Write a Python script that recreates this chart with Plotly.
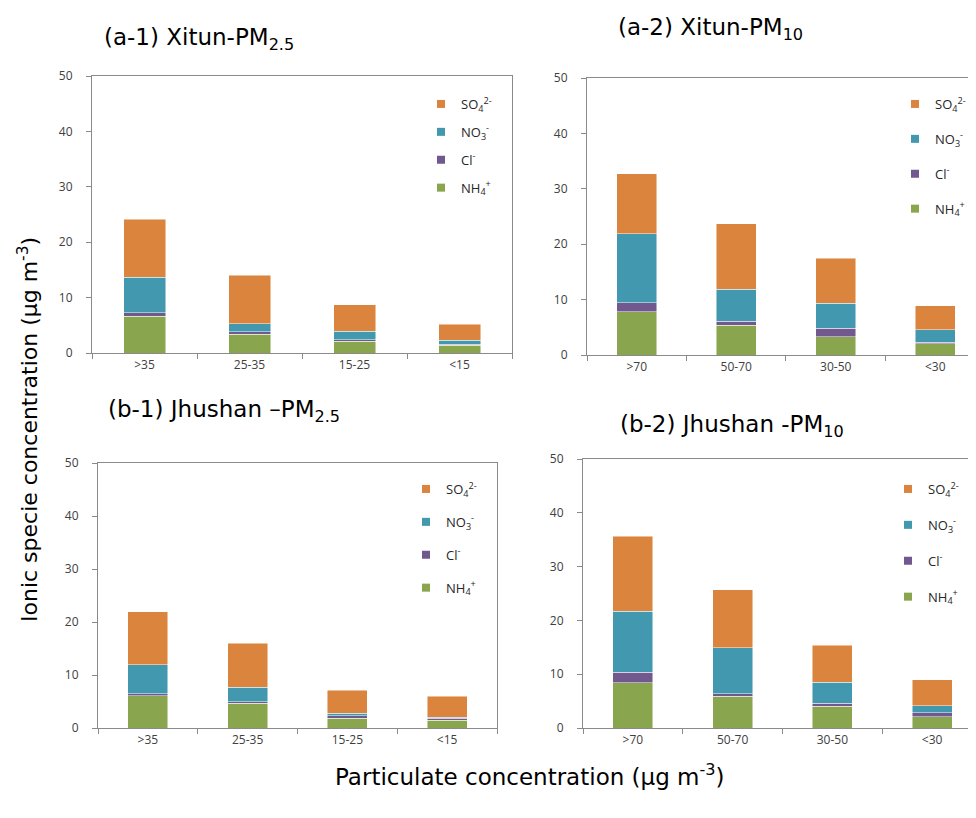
import plotly.graph_objects as go

# page body has an 8px margin; keep the figure inside the 976x818 window
OFF = 8
W, H = 976 - OFF, 818 - OFF

cats_pm25 = [">35", "25-35", "15-25", "<15"]
cats_pm10 = [">70", "50-70", "30-50", "<30"]

species = ["NH4", "Cl", "NO3", "SO4"]
species_labels = {
    "SO4": "SO<sub>4</sub><sup>2-</sup>",
    "NO3": "NO<sub>3</sub><sup>-</sup>",
    "Cl": "Cl<sup>-</sup>",
    "NH4": "NH<sub>4</sub><sup>+</sup>",
}
colors = {"SO4": "#DB843D", "NO3": "#4198AF", "Cl": "#71588F", "NH4": "#89A54E"}

# (a-1) Xitun PM2.5
a1_NH4 = [6.6, 3.4, 2.1, 1.4]
a1_Cl = [0.7, 0.4, 0.3, 0.2]
a1_NO3 = [6.4, 1.5, 1.5, 0.7]
a1_SO4 = [10.4, 8.7, 4.8, 2.9]
# (a-2) Xitun PM10
a2_NH4 = [7.8, 5.4, 3.3, 2.0]
a2_Cl = [1.6, 0.7, 1.5, 0.3]
a2_NO3 = [12.5, 5.8, 4.5, 2.3]
a2_SO4 = [10.8, 11.8, 8.2, 4.3]
# (b-1) Jhushan PM2.5
b1_NH4 = [6.1, 4.7, 1.8, 1.5]
b1_Cl = [0.4, 0.3, 0.5, 0.3]
b1_NO3 = [5.4, 2.7, 0.5, 0.2]
b1_SO4 = [10.0, 8.3, 4.3, 4.0]
# (b-2) Jhushan PM10
b2_NH4 = [8.4, 5.9, 4.0, 2.1]
b2_Cl = [2.0, 0.5, 0.6, 0.7]
b2_NO3 = [11.3, 8.5, 3.9, 1.3]
b2_SO4 = [13.9, 10.8, 6.9, 4.9]

y_ticks = [0, 10, 20, 30, 40, 50]


def px_x(sx):
    return (sx - OFF) / W


def px_y(sy):
    return 1 - (sy - OFF) / H


panels = [
    dict(cats=cats_pm25, data={"NH4": a1_NH4, "Cl": a1_Cl, "NO3": a1_NO3, "SO4": a1_SO4},
         px=(92, 512), py=(76, 353), leg=(421, 89), gap=8, xrange=[-0.5, 3.5]),
    dict(cats=cats_pm10, data={"NH4": a2_NH4, "Cl": a2_Cl, "NO3": a2_NO3, "SO4": a2_SO4},
         px=(587, 976), py=(78, 355), leg=(895, 89), gap=15, xrange=[-0.5, 3.41]),
    dict(cats=cats_pm25, data={"NH4": b1_NH4, "Cl": b1_Cl, "NO3": b1_NO3, "SO4": b1_SO4},
         px=(98, 497), py=(463, 728), leg=(406, 474), gap=13, xrange=[-0.5, 3.5]),
    dict(cats=cats_pm10, data={"NH4": b2_NH4, "Cl": b2_Cl, "NO3": b2_NO3, "SO4": b2_SO4},
         px=(583, 976), py=(459, 728), leg=(888, 474), gap=16, xrange=[-0.5, 3.44]),
]

fig = go.Figure()
layout = {}
axis_col = "#8A8A8A"
tick_font = dict(family="Open Sans, Lato, sans-serif", size=12, color="#404040")

for i, p in enumerate(panels, start=1):
    xa = "x" if i == 1 else f"x{i}"
    ya = "y" if i == 1 else f"y{i}"
    lg = "legend" if i == 1 else f"legend{i}"
    for sp in species:
        fig.add_trace(go.Bar(
            x=p["cats"], y=p["data"][sp], name=species_labels[sp],
            marker=dict(color=colors[sp], line=dict(color="rgba(255,255,255,0.6)", width=0.8)),
            width=0.4, xaxis=xa, yaxis=ya, showlegend=False,
        ))
    for k, sp in enumerate(["SO4", "NO3", "Cl", "NH4"]):
        fig.add_trace(go.Scatter(
            x=[None], y=[None], mode="markers", name=species_labels[sp],
            marker=dict(symbol="square", size=8, color=colors[sp]),
            xaxis=xa, yaxis=ya, legend=lg, legendgroup=f"g{i}{k}", showlegend=True,
        ))
    xkey = "xaxis" if i == 1 else f"xaxis{i}"
    ykey = "yaxis" if i == 1 else f"yaxis{i}"
    layout[xkey] = dict(
        domain=[px_x(p["px"][0]), min(1.0, px_x(p["px"][1]))], anchor=ya,
        type="category", categoryorder="array", categoryarray=p["cats"],
        range=p["xrange"], tickson="boundaries", ticks="outside", ticklen=5,
        tickcolor=axis_col, showline=True, linecolor=axis_col, linewidth=1.2,
        mirror=True, showgrid=False, tickfont=tick_font, fixedrange=True,
    )
    layout[ykey] = dict(
        domain=[px_y(p["py"][1]), px_y(p["py"][0])], anchor=xa,
        range=[0, 50], tickvals=y_ticks, ticks="outside", ticklen=5,
        tickcolor=axis_col, showline=True, linecolor=axis_col, linewidth=1.2,
        mirror=True, showgrid=False, zeroline=False, tickfont=tick_font,
        ticklabelstandoff=11,
    )
    layout[lg] = dict(
        x=px_x(p["leg"][0]), y=px_y(p["leg"][1]), xanchor="left", yanchor="top",
        bgcolor="rgba(0,0,0,0)", font=dict(family="Open Sans, Lato, sans-serif", size=13, color="#262626"),
        tracegroupgap=p["gap"], traceorder="grouped",
    )

title_font = dict(family="DejaVu Sans, Arial, sans-serif", size=23, color="#000000")
annotations = [
    dict(text="(a-1) Xitun-PM<sub>2.5</sub>", x=px_x(102), y=px_y(39), xanchor="left", yanchor="middle"),
    dict(text="(a-2) Xitun-PM<sub>10</sub>", x=px_x(616), y=px_y(29), xanchor="left", yanchor="middle"),
    dict(text="(b-1) Jhushan \u2013PM<sub>2.5</sub>", x=px_x(106), y=px_y(411), xanchor="left", yanchor="middle"),
    dict(text="(b-2) Jhushan -PM<sub>10</sub>", x=px_x(618), y=px_y(426), xanchor="left", yanchor="middle"),
]
for a in annotations:
    a.update(xref="paper", yref="paper", showarrow=False, font=title_font)

annotations.append(dict(
    text="Ionic specie concentration (\u03bcg m<sup>-3</sup>)", x=px_x(28), y=px_y(430),
    xref="paper", yref="paper", showarrow=False, textangle=-90,
    xanchor="center", yanchor="middle",
    font=dict(family="DejaVu Sans, Arial, sans-serif", size=22, color="#000000"),
))
annotations.append(dict(
    text="Particulate concentration (\u03bcg m<sup>-3</sup>)", x=px_x(530), y=px_y(775),
    xref="paper", yref="paper", showarrow=False,
    xanchor="center", yanchor="middle", font=title_font,
))

fig.update_layout(
    width=W, height=H, margin=dict(l=0, r=0, t=0, b=0, autoexpand=False),
    paper_bgcolor="white", plot_bgcolor="white",
    barmode="stack", bargap=0.6, annotations=annotations,
    **layout,
)

fig.write_html("out.html")
